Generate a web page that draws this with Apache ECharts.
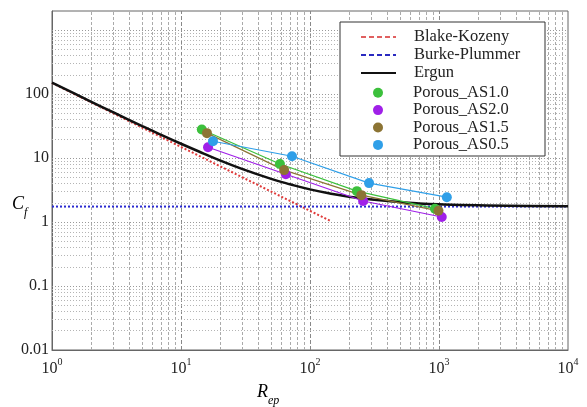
<!DOCTYPE html>
<html>
<head>
<meta charset="utf-8">
<script src="https://cdn.jsdelivr.net/npm/echarts@6/dist/echarts.min.js"></script>
<style>
  html, body { margin: 0; padding: 0; background: #fff; }
  #chart { width: 587px; height: 407px; }
</style>
</head>
<body>
<div id="chart"></div>
<script>
// Ergun, Blake-Kozeny and Burke-Plummer curves
const ergunRe = [1, 1.5, 2, 3, 5, 7, 10, 15, 20, 30, 50, 70, 100, 150, 200, 300, 500, 700, 1000, 2000, 5000, 10000];
const ergunCf = [151.8, 101.8, 76.8, 51.8, 31.8, 23.2, 16.8, 11.8, 9.25, 6.75, 4.75, 3.9, 3.25, 2.75, 2.5, 2.25, 2.05, 1.96, 1.9, 1.83, 1.78, 1.77];
const blakeRe = [1, 10, 100, 143];
const blakeCf = [150, 15, 1.5, 1.05];
const burkeRe = [1, 10000];
const burkeCf = [1.75, 1.75];

// Porous media samples
const as10Re = [14.5, 58.5, 231, 930];
const as10Cf = [28, 8.1, 3.05, 1.62];
const as20Re = [16.2, 65, 258, 1050];
const as20Cf = [14.8, 5.6, 2.14, 1.2];
const as15Re = [15.9, 63, 250, 990];
const as15Cf = [24.6, 6.5, 2.64, 1.5];
const as05Re = [17.7, 72.5, 287, 1150];
const as05Cf = [18.4, 10.7, 4.07, 2.45];

// Axis tick labels
const yTickLabels = ['0.01', '0.1', '1', '10', '100'];

const FONT = '"Liberation Serif", "DejaVu Serif", serif';

const pairs = (xs, ys) => xs.map((x, i) => [x, ys[i]]);

// log grid lines (1..9 per decade)
function gridValues(kFrom, kTo) {
  const out = [];
  for (let k = kFrom; k <= kTo; k++) {
    for (let m = 1; m <= 9; m++) {
      out.push(Number((m * Math.pow(10, k)).toPrecision(6)));
    }
  }
  return out;
}
const isDecade = v => Math.abs(Math.log10(v) - Math.round(Math.log10(v))) < 1e-9;
const gridLines = [];
gridValues(0, 3).slice(1).forEach(v => {
  const major = isDecade(v);
  gridLines.push({
    xAxis: v,
    lineStyle: { color: major ? '#888' : '#aaa', type: major ? [4, 2] : [3, 2], width: 1 }
  });
});
gridValues(-2, 2).slice(1).concat([1000]).forEach(v => {
  const major = isDecade(v);
  gridLines.push({
    yAxis: v,
    lineStyle: { color: major ? '#999' : '#b4b4b4', type: [1, 2], width: 1 }
  });
});

const chart = echarts.init(document.getElementById('chart'));

const markerSeries = (name, re, cf, color) => ({
  name: name,
  type: 'line',
  data: pairs(re, cf),
  z: 4,
  symbol: 'circle',
  symbolSize: 10,
  lineStyle: { color: color, width: 1.2 },
  itemStyle: { color: color }
});

const legendText = (lh, padLeft) => ({
  fontFamily: FONT, fontSize: 16.5, color: '#222', lineHeight: lh, padding: [0, 0, 0, padLeft]
});
const noSymbol = { opacity: 0 };

const option = {
  animation: false,
  grid: {
    left: 52, right: 19, top: 11, bottom: 57,
    show: true,
    borderColor: '#666',
    borderWidth: 1
  },
  legend: [
    {
      orient: 'vertical',
      left: 360,
      top: 28,
      padding: 0,
      z: 6,
      itemWidth: 35,
      itemHeight: 10,
      itemGap: 0,
      textStyle: legendText(18, 13),
      data: [
        { name: 'Blake-Kozeny', itemStyle: noSymbol, lineStyle: { type: [5, 3], color: '#e06060', width: 2 } },
        { name: 'Burke-Plummer', itemStyle: noSymbol, lineStyle: { type: [5, 3], color: '#2a2ac0', width: 2 } },
        { name: 'Ergun', itemStyle: noSymbol }
      ]
    },
    {
      orient: 'vertical',
      left: 373,
      top: 84,
      padding: 0,
      z: 6,
      itemWidth: 10,
      itemHeight: 10,
      itemGap: 0,
      textStyle: legendText(17.4, 25),
      data: [
        { name: 'Porous_AS1.0', icon: 'circle' },
        { name: 'Porous_AS2.0', icon: 'circle' },
        { name: 'Porous_AS1.5', icon: 'circle' },
        { name: 'Porous_AS0.5', icon: 'circle' }
      ]
    }
  ],
  xAxis: {
    type: 'log',
    logBase: 10,
    min: 1,
    max: 10000,
    axisLine: { show: true, lineStyle: { color: '#666' } },
    axisTick: { show: false },
    splitLine: { show: false },
    axisLabel: {
      margin: 7,
      formatter: v => '{b|10}{s|' + Math.round(Math.log10(v)) + '}',
      rich: {
        b: { fontFamily: FONT, fontSize: 16, color: '#222', lineHeight: 20, verticalAlign: 'bottom' },
        s: { fontFamily: FONT, fontSize: 10, color: '#222', lineHeight: 20, verticalAlign: 'top' }
      }
    }
  },
  yAxis: {
    type: 'log',
    logBase: 10,
    min: 0.01,
    max: 2000,
    axisLine: { show: true, lineStyle: { color: '#666' } },
    axisTick: { show: false },
    splitLine: { show: false },
    axisLabel: {
      margin: 3,
      fontFamily: FONT,
      fontSize: 16,
      color: '#222',
      formatter: v => {
        const s = String(Number(v.toPrecision(6)));
        return yTickLabels.indexOf(s) >= 0 ? s : '';
      }
    }
  },
  graphic: [
    {
      type: 'rect',
      z: 5,
      shape: { x: 340, y: 22, width: 205, height: 134 },
      style: { fill: '#fff', stroke: '#333', lineWidth: 1 }
    },
    {
      type: 'text',
      left: 12,
      top: 195,
      style: {
        text: '{c|C}{f|f}',
        rich: {
          c: { fontFamily: FONT, fontStyle: 'italic', fontSize: 18, color: '#222', lineHeight: 24, verticalAlign: 'top' },
          f: { fontFamily: FONT, fontStyle: 'italic', fontSize: 12, color: '#222', lineHeight: 24, verticalAlign: 'bottom' }
        }
      }
    },
    {
      type: 'text',
      left: 257,
      top: 383,
      style: {
        text: '{c|R}{f|ep}',
        rich: {
          c: { fontFamily: FONT, fontStyle: 'italic', fontSize: 18, color: '#222', lineHeight: 24, verticalAlign: 'top' },
          f: { fontFamily: FONT, fontStyle: 'italic', fontSize: 12, color: '#222', lineHeight: 24, verticalAlign: 'bottom' }
        }
      }
    }
  ],
  series: [
    {
      name: 'Blake-Kozeny',
      type: 'line',
      data: pairs(blakeRe, blakeCf),
      symbol: 'none',
      z: 2,
      lineStyle: { color: '#e03a3a', width: 2, type: [2, 2] },
      itemStyle: { color: '#e03a3a' }
    },
    {
      name: 'Burke-Plummer',
      type: 'line',
      data: pairs(burkeRe, burkeCf),
      symbol: 'none',
      z: 2,
      lineStyle: { color: '#2a2ad0', width: 2, type: [2, 2] },
      itemStyle: { color: '#2a2ad0' },
      markLine: {
        silent: true,
        z: 1,
        symbol: 'none',
        label: { show: false },
        emphasis: { disabled: true },
        data: gridLines
      }
    },
    {
      name: 'Ergun',
      type: 'line',
      data: pairs(ergunRe, ergunCf),
      symbol: 'none',
      smooth: true,
      z: 3,
      lineStyle: { color: '#111', width: 2.5 },
      itemStyle: { color: '#111' }
    },
    markerSeries('Porous_AS1.0', as10Re, as10Cf, '#3cc03c'),
    markerSeries('Porous_AS2.0', as20Re, as20Cf, '#a020e8'),
    markerSeries('Porous_AS1.5', as15Re, as15Cf, '#8c7434'),
    markerSeries('Porous_AS0.5', as05Re, as05Cf, '#2f9fe8')
  ]
};

chart.setOption(option);

window.addEventListener('resize', () => chart.resize());
</script>
</body>
</html>
